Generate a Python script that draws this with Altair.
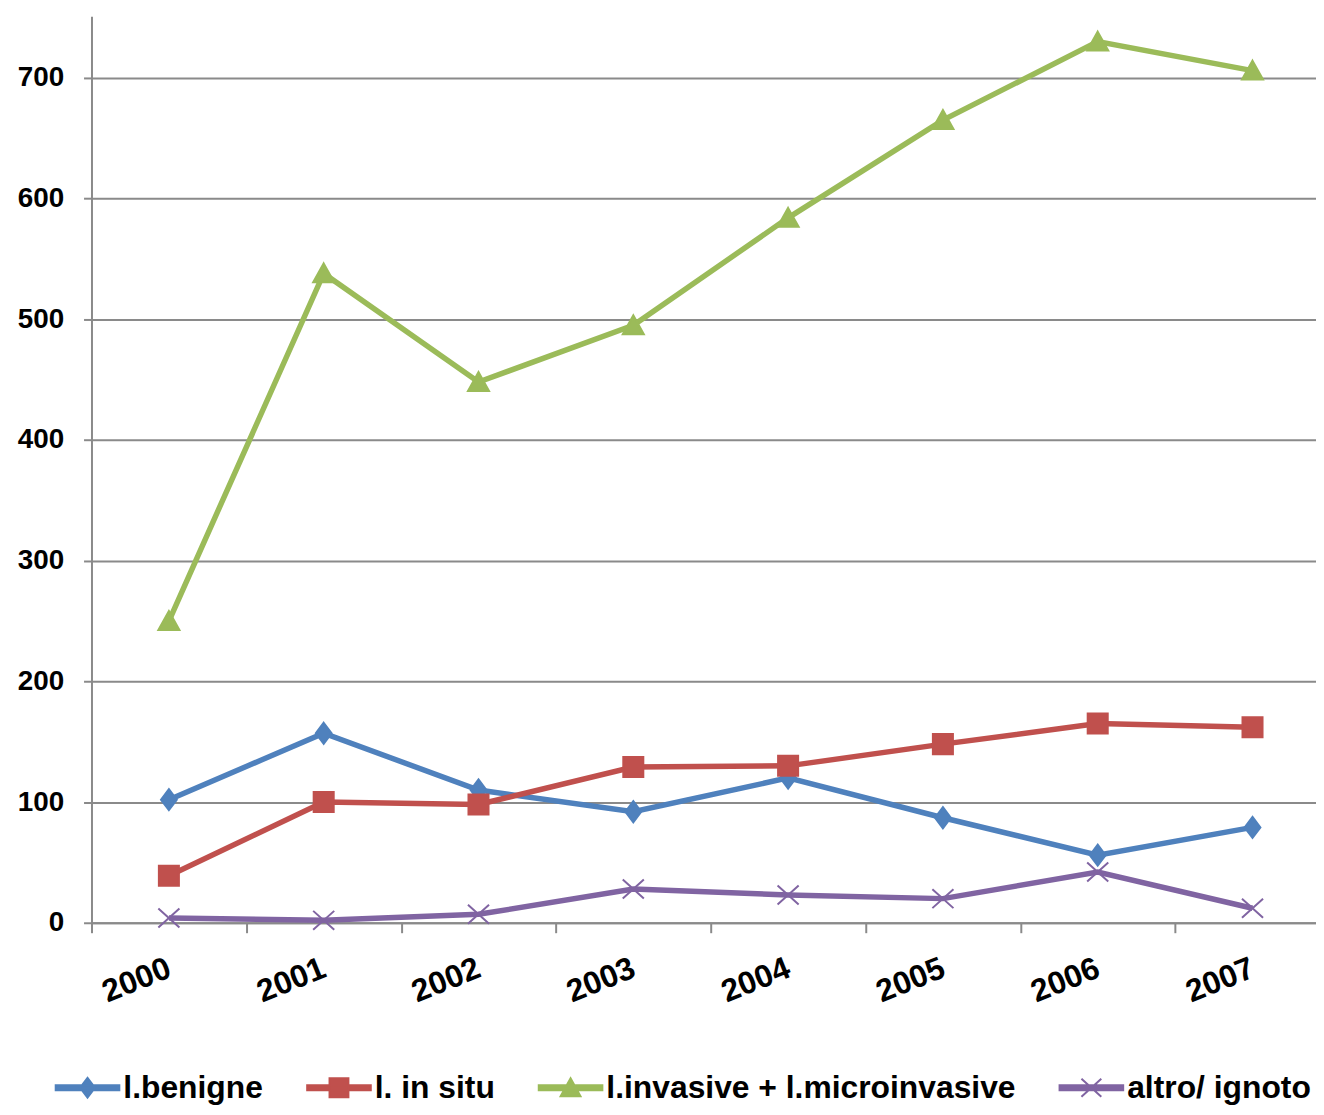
import altair as alt
import pandas as pd

years = ["2000", "2001", "2002", "2003", "2004", "2005", "2006", "2007"]
series_names = ["l.benigne", "l. in situ", "l.invasive + l.microinvasive", "altro/ ignoto"]
benigne = [102, 157, 110, 92, 120, 87, 56, 79]
in_situ = [39, 100, 98, 129, 130, 148, 165, 162]
invasive = [250, 538, 448, 495, 584, 665, 730, 706]
altro = [4, 2, 7, 28, 23, 20, 42, 12]
colors = ["#4F81BD", "#C0504D", "#9BBB59", "#8064A2"]
y_ticks = [0, 100, 200, 300, 400, 500, 600, 700]

rows = []
for name, vals in zip(series_names, [benigne, in_situ, invasive, altro]):
    for yr, v in zip(years, vals):
        rows.append({"anno": yr, "serie": name, "valore": v})
df = pd.DataFrame(rows)

marker_paths = [
    "M0,-1L0.75,0L0,1L-0.75,0Z",
    "M-0.95,-0.95H0.95V0.95H-0.95Z",
    "M0,-0.95L1,0.85H-1Z",
    "M-1,-0.9L1,0.9M-1,0.9L1,-0.9",
]
bar = "M-3.2,-0.25H3.2V0.25H-3.2Z"
legend_paths = [bar + p for p in marker_paths]

FONT = "Liberation Sans"
GRAY = "#8a8a8a"

x_enc = alt.X(
    "anno:O",
    sort=years,
    bandPosition=0.5,
    scale=alt.Scale(type="band", range=[0, 1246], paddingInner=0, paddingOuter=0),
    axis=alt.Axis(
        title=None,
        tickBand="extent",
        labelAngle=-22,
        labelAlign="right",
        labelBaseline="middle",
        labelFont=FONT,
        labelFontSize=32,
        labelFontWeight="bold",
        labelColor="black",
        labelPadding=34,
        tickSize=10,
        tickColor=GRAY,
        tickWidth=2,
        domainColor=GRAY,
        domainWidth=2,
        grid=False,
    ),
)
y_enc = alt.Y(
    "valore:Q",
    scale=alt.Scale(domain=[0, 751], nice=False),
    axis=alt.Axis(
        title=None,
        values=y_ticks,
        grid=True,
        gridColor=GRAY,
        gridWidth=2,
        labelFont=FONT,
        labelFontSize=28,
        labelFontWeight="bold",
        labelColor="black",
        labelPadding=20,
        tickSize=8,
        tickColor=GRAY,
        tickWidth=2,
        domainColor=GRAY,
        domainWidth=2,
    ),
)

color_scale = alt.Scale(domain=series_names, range=colors)

legend_def = alt.Legend(
    title=None,
    orient="none",
    legendX=-20,
    legendY=1062,
    direction="horizontal",
    columns=4,
    symbolSize=400,
    symbolStrokeWidth=2,
    symbolOpacity=1,
    labelFont=FONT,
    labelFontSize=32,
    labelFontWeight="bold",
    labelColor="black",
    labelLimit=700,
    labelOffset=20,
    columnPadding=40,
    padding=0,
)

lines = alt.Chart(df).mark_line(strokeWidth=5.5).encode(
    x=x_enc,
    y=y_enc,
    color=alt.Color("serie:N", scale=color_scale, legend=None),
    detail="serie:N",
)

points = alt.Chart(df).mark_point(filled=True, size=450, strokeWidth=2, opacity=1).encode(
    x=x_enc,
    y=y_enc,
    color=alt.Color("serie:N", scale=color_scale, legend=None),
    stroke=alt.Stroke("serie:N", scale=color_scale, legend=None),
    shape=alt.Shape("serie:N", scale=alt.Scale(domain=series_names, range=marker_paths), legend=None),
)

legend_layer = (
    alt.Chart(df)
    .transform_filter("datum.valore < 0")
    .mark_point(filled=True, size=400, strokeWidth=2, opacity=1)
    .encode(
        x=x_enc,
        y=y_enc,
        color=alt.Color("serie:N", scale=color_scale, legend=legend_def),
        stroke=alt.Stroke("serie:N", scale=color_scale, legend=legend_def),
        shape=alt.Shape("serie:N", scale=alt.Scale(domain=series_names, range=legend_paths), legend=legend_def),
    )
)

chart = (
    alt.layer(lines, points, legend_layer)
    .resolve_scale(shape="independent")
    .resolve_legend(color="independent", stroke="independent", shape="independent")
    .properties(
        width=1232,
        height=912,
        autosize=alt.AutoSizeParams(type="none"),
        padding={"left": 84, "top": 5, "right": 0, "bottom": 182},
        background="white",
    )
    .configure_view(stroke=None)
)

chart.save("out.html", embed_options={"renderer": "svg", "actions": False})
